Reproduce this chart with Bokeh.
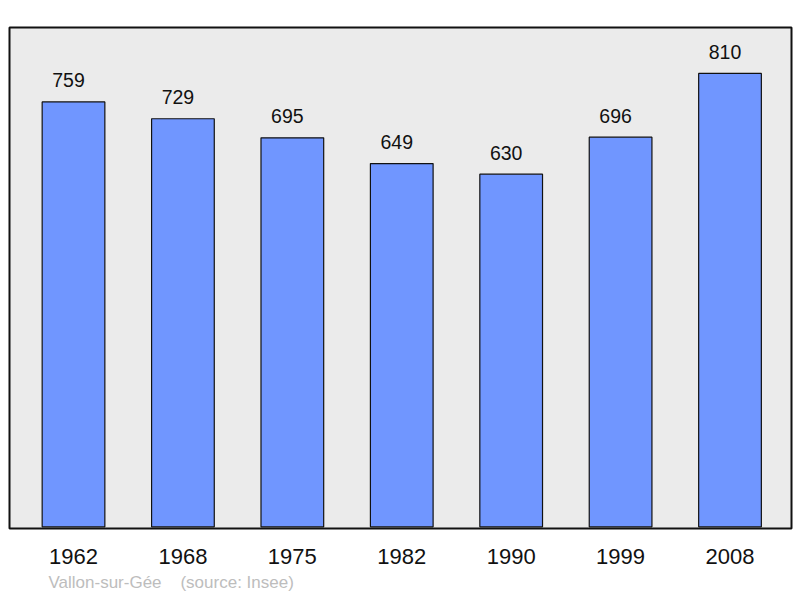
from bokeh.plotting import figure
from bokeh.models import ColumnDataSource, LabelSet, Range1d, FixedTicker, Title
from bokeh.core.properties import value
from bokeh.embed import file_html
from bokeh.resources import INLINE

years = ["1962", "1968", "1975", "1982", "1990", "1999", "2008"]
population = [759, 729, 695, 649, 630, 696, 810]
place = "Vallon-sur-Gée"
source_note = "(source: Insee)"

xs = list(range(len(years)))
src = ColumnDataSource(dict(x=xs, top=population, label=[str(v) for v in population]))

p = figure(width=800, height=598, output_backend="svg", toolbar_location=None,
           x_range=Range1d(-0.585, 6.562), y_range=Range1d(-3, 892),
           min_border_left=9, min_border_right=9, min_border_top=27,
           min_border_bottom=70)
p.yaxis.visible = False
p.grid.visible = False
p.background_fill_color = "#ebebeb"
p.border_fill_color = "white"
p.outline_line_color = "#111111"
p.outline_line_width = 2

p.xaxis.ticker = FixedTicker(ticks=xs)
p.xaxis.major_label_overrides = {i: y for i, y in zip(xs, years)}
p.xaxis.axis_line_color = None
p.xaxis.major_tick_line_color = None
p.xaxis.minor_tick_line_color = None
p.xaxis.major_tick_out = 0
p.xaxis.major_tick_in = 0
p.xaxis.major_label_standoff = 20
p.xaxis.major_label_text_font = "Liberation Sans"
p.xaxis.major_label_text_font_size = "22px"
p.xaxis.major_label_text_color = "#111111"

p.vbar(x="x", top="top", bottom=0, width=0.573, source=src,
       fill_color="#7096ff", line_color="#111111", line_width=1.2)

p.add_layout(LabelSet(x="x", y="top", text="label", source=src,
                      text_align="center", text_baseline="alphabetic",
                      x_offset=-5, y_offset=14.5, text_font=value("Liberation Sans"),
                      text_font_size="19.5px", text_color="#111111"))

p.add_layout(Title(text=place + "\u00a0\u00a0\u00a0\u00a0" + source_note, align="left", offset=39,
                   text_font="Liberation Sans", text_font_size="17px",
                   text_font_style="normal", text_color="#bdbdbd",
                   standoff=9), "below")

open("out.html", "w").write(file_html(p, INLINE))
